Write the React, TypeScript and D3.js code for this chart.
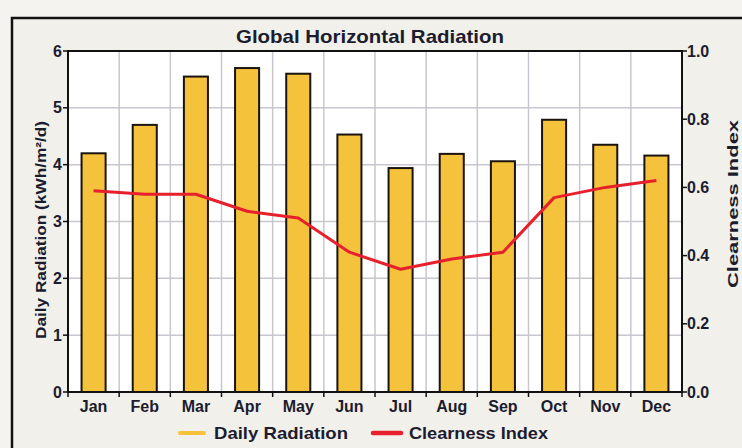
import React from "react";
import * as d3 from "d3";

const months = ["Jan", "Feb", "Mar", "Apr", "May", "Jun", "Jul", "Aug", "Sep", "Oct", "Nov", "Dec"];
const dailyRadiation = [4.2, 4.7, 5.55, 5.7, 5.6, 4.53, 3.94, 4.19, 4.06, 4.79, 4.35, 4.16];
const clearnessIndex = [0.59, 0.58, 0.58, 0.53, 0.51, 0.41, 0.36, 0.39, 0.41, 0.57, 0.6, 0.62];
const leftTicks = [0, 1, 2, 3, 4, 5, 6];
const rightTicks = [0, 0.2, 0.4, 0.6, 0.8, 1.0];

const W = 742, H = 448;
const plot = { left: 68, right: 682, top: 51, bottom: 392 };
const font = "'Liberation Sans', Arial, sans-serif";
const textColor = "#1c1c2e";

export default function App() {
  const x = d3.scaleBand<string>().domain(months).range([plot.left, plot.right]).paddingInner(0).paddingOuter(0);
  const yL = d3.scaleLinear().domain([0, 6]).range([plot.bottom, plot.top]);
  const yR = d3.scaleLinear().domain([0, 1]).range([plot.bottom, plot.top]);
  const barW = x.bandwidth() * 0.47;
  const line = d3.line<number>()
    .x((_, i) => (x(months[i]) as number) + x.bandwidth() / 2)
    .y((d) => yR(d));

  return (
    <svg width={W} height={H} style={{ position: "fixed", left: 0, top: 0, display: "block" }} fontFamily={font}>
      <rect x={0} y={0} width={W} height={H} fill="#f4f3ef" />
      <rect x={12} y={18} width={W + 10} height={H} fill="#f1f0eb" stroke="#111" strokeWidth={2.5} />
      <rect x={plot.left} y={plot.top} width={plot.right - plot.left} height={plot.bottom - plot.top} fill="#ffffff" />
      {/* grid */}
      {leftTicks.slice(1, -1).map((t) => (
        <line key={"h" + t} x1={plot.left} x2={plot.right} y1={yL(t)} y2={yL(t)} stroke="#c9c6cf" strokeWidth={1.5} />
      ))}
      {months.slice(1).map((m) => (
        <line key={"v" + m} x1={x(m)} x2={x(m)} y1={plot.top} y2={plot.bottom} stroke="#c9c6cf" strokeWidth={1.5} />
      ))}
      {/* bars */}
      {dailyRadiation.map((v, i) => {
        const cx = (x(months[i]) as number) + x.bandwidth() / 2;
        return (
          <rect key={i} x={cx - barW / 2} y={yL(v)} width={barW} height={yL(0) - yL(v)}
            fill="#f5c23c" stroke="#1a1410" strokeWidth={2} />
        );
      })}
      {/* line */}
      <path d={line(clearnessIndex) || ""} fill="none" stroke="#e6202c" strokeWidth={3} strokeLinejoin="round" />
      {/* frame */}
      <rect x={plot.left} y={plot.top} width={plot.right - plot.left} height={plot.bottom - plot.top} fill="none" stroke="#111" strokeWidth={2} />
      {/* left ticks */}
      {leftTicks.map((t) => (
        <g key={"lt" + t}>
          <line x1={plot.left - 5} x2={plot.left} y1={yL(t)} y2={yL(t)} stroke="#111" strokeWidth={1.5} />
          <text x={plot.left - 6} y={yL(t)} dy="0.35em" textAnchor="end" fontSize={16} fontWeight="bold" fill={textColor}>{t}</text>
        </g>
      ))}
      {/* right ticks */}
      {rightTicks.map((t) => (
        <g key={"rt" + t}>
          <line x1={plot.right} x2={plot.right + 5} y1={yR(t)} y2={yR(t)} stroke="#111" strokeWidth={1.5} />
          <text x={plot.right + 5} y={yR(t)} dy="0.35em" textAnchor="start" fontSize={16} fontWeight="bold" fill={textColor}>{t.toFixed(1)}</text>
        </g>
      ))}
      {/* bottom ticks */}
      {months.map((m) => (
        <line key={"bt" + m} x1={x(m)} x2={x(m)} y1={plot.bottom} y2={plot.bottom + 5} stroke="#111" strokeWidth={1.5} />
      ))}
      <line x1={plot.right} x2={plot.right} y1={plot.bottom} y2={plot.bottom + 5} stroke="#111" strokeWidth={1.5} />
      {months.map((m) => (
        <text key={"bl" + m} x={(x(m) as number) + x.bandwidth() / 2} y={412} textAnchor="middle" fontSize={16} fontWeight="bold" fill={textColor}>{m}</text>
      ))}
      {/* titles */}
      <text x={370} y={43} textAnchor="middle" fontSize={19} fontWeight="bold" fill={textColor} textLength={268} lengthAdjust="spacingAndGlyphs">Global Horizontal Radiation</text>
      <text transform={`translate(46,230) rotate(-90)`} textAnchor="middle" fontSize={15} fontWeight="bold" fill={textColor} textLength={218} lengthAdjust="spacingAndGlyphs">Daily Radiation (kWh/m²/d)</text>
      <text transform={`translate(738,204) rotate(-90)`} textAnchor="middle" fontSize={15} fontWeight="bold" fill={textColor} textLength={168} lengthAdjust="spacingAndGlyphs">Clearness Index</text>
      {/* legend */}
      <line x1={180} x2={204} y1={433} y2={433} stroke="#f5c23c" strokeWidth={4} strokeLinecap="round" />
      <text x={214} y={439} fontSize={17} fontWeight="bold" fill={textColor} textLength={134} lengthAdjust="spacingAndGlyphs">Daily Radiation</text>
      <line x1={373} x2={401} y1={433} y2={433} stroke="#e6202c" strokeWidth={4.5} strokeLinecap="round" />
      <text x={409} y={439} fontSize={17} fontWeight="bold" fill={textColor} textLength={139} lengthAdjust="spacingAndGlyphs">Clearness Index</text>
    </svg>
  );
}
